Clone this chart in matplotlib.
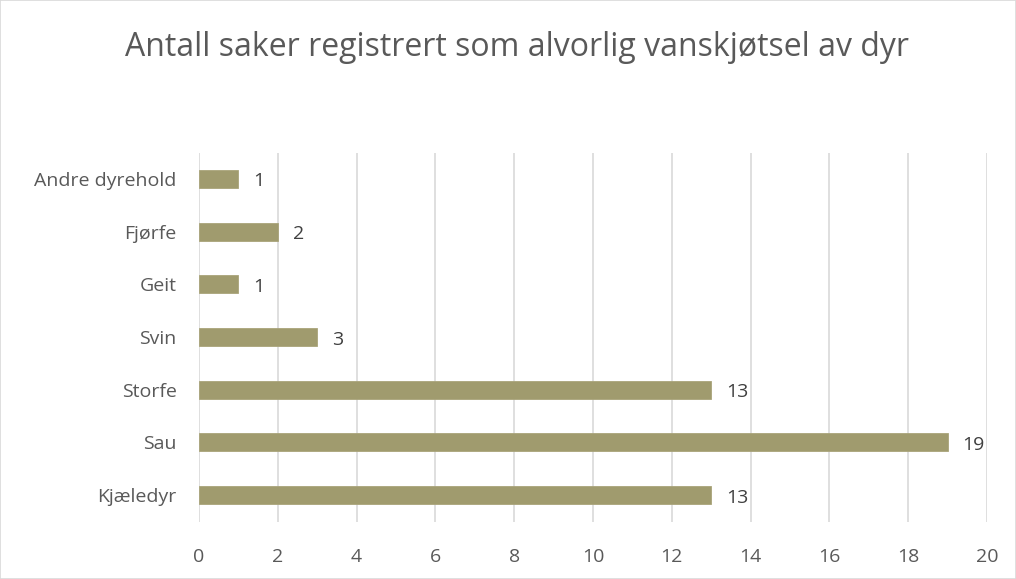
import matplotlib
matplotlib.use("Agg")
import matplotlib.pyplot as plt
from matplotlib.patches import Rectangle

categories = ["Kjæledyr", "Sau", "Storfe", "Svin", "Geit", "Fjørfe", "Andre dyrehold"]
values = [13, 19, 13, 3, 1, 2, 1]
xticks = [0, 2, 4, 6, 8, 10, 12, 14, 16, 18, 20]
title = "Antall saker registrert som alvorlig vanskjøtsel av dyr"

plt.rcParams['font.family'] = ['Open Sans', 'DejaVu Sans']
txt = '#595959'

fig = plt.figure(figsize=(10.16, 5.79), dpi=100)
fig.patches.append(Rectangle((0, 0), 1, 1, transform=fig.transFigure,
                             fill=False, edgecolor='#D9D9D9', linewidth=1.2))
ax = fig.add_axes([199/1016, 1-521.5/579, 788/1016, 369/579])

y = list(range(len(categories)))
ax.barh(y, values, height=0.34, color='#A09B6E', edgecolor='#A9A47A', linewidth=0.6, zorder=3)
for yi, v in zip(y, values):
    ax.text(v + 0.38, yi - 0.05, str(v), va='center', ha='left', fontsize=14, color='#404040')

ax.set_xlim(0, 20)
ax.set_ylim(-0.5, len(categories) - 0.5)
ax.set_xticks(xticks)
ax.set_xticklabels([str(t) for t in xticks])
ax.set_yticks(y)
ax.set_yticklabels(categories)
ax.tick_params(axis='both', length=0, labelsize=14, labelcolor=txt)
ax.tick_params(axis='x', pad=19)
ax.tick_params(axis='y', pad=16)
ax.grid(axis='x', color='#D9D9D9', linewidth=1.2, zorder=0)
for s in ax.spines.values():
    s.set_visible(False)

fig.text(517/1016, 1-48/579, title, ha='center', va='center', fontsize=23, color=txt)

fig.savefig('out.png', dpi=100)
